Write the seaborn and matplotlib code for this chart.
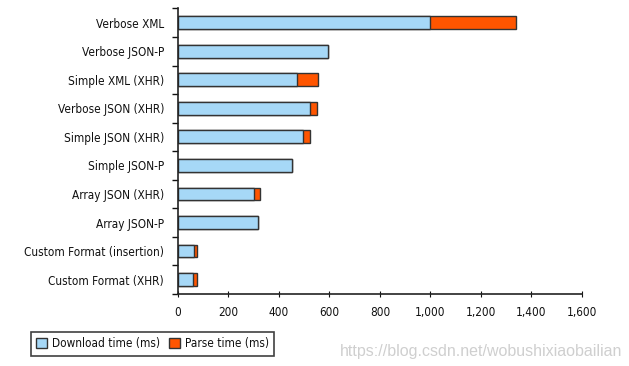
import matplotlib
matplotlib.use("Agg")
import matplotlib.pyplot as plt
from matplotlib.patches import Patch
from matplotlib.ticker import FuncFormatter, FixedLocator
import seaborn as sns
import pandas as pd

# Formats and timings (ms)
formats = ['Verbose XML', 'Verbose JSON-P', 'Simple XML (XHR)', 'Verbose JSON (XHR)',
           'Simple JSON (XHR)', 'Simple JSON-P', 'Array JSON (XHR)', 'Array JSON-P',
           'Custom Format (insertion)', 'Custom Format (XHR)']
download = [1000, 595, 472, 524, 496, 452, 302, 317, 63, 60]
parse = [340, 0, 84, 28, 28, 0, 23, 0, 12, 15]

df = pd.DataFrame({'format': formats, 'download': download, 'parse': parse})
df['total'] = df['download'] + df['parse']

blue = '#a6d8f7'
orange = '#ff5500'
edge = '#333333'

sns.set_style('ticks')
plt.rcParams['font.family'] = ['DejaVu Sans']
plt.rcParams['font.stretch'] = 'condensed'
plt.rcParams['text.color'] = '#111111'
plt.rcParams['xtick.color'] = '#111111'
plt.rcParams['ytick.color'] = '#111111'

fig = plt.figure(figsize=(6.29, 3.66), dpi=100)
ax = fig.add_axes([0.283, 0.197, 0.642, 0.78])

sns.barplot(data=df, x='total', y='format', color=orange, edgecolor=edge,
            linewidth=1.0, width=0.45, ax=ax, saturation=1)
sns.barplot(data=df, x='download', y='format', color=blue, edgecolor=edge,
            linewidth=1.0, width=0.45, ax=ax, saturation=1)

ax.set_xlim(0, 1600)
ax.set_ylim(9.5, -0.5)
ax.set_xticks(range(0, 1601, 200))
ax.xaxis.set_major_formatter(FuncFormatter(lambda v, p: f'{int(v):,}'))
ax.set_xlabel('')
ax.set_ylabel('')
ax.tick_params(axis='y', which='major', length=0, labelsize=8.5, pad=10)
ax.tick_params(axis='x', which='major', length=4, labelsize=8.5, direction='inout', pad=7)
ax.yaxis.set_minor_locator(FixedLocator([i - 0.5 for i in range(11)]))
ax.tick_params(axis='y', which='minor', length=4, width=1)
for s in ['top', 'right']:
    ax.spines[s].set_visible(False)
for s in ['left', 'bottom']:
    ax.spines[s].set_linewidth(1.2)
    ax.spines[s].set_color('#222222')

handles = [Patch(facecolor=blue, edgecolor=edge, label='Download time (ms)'),
           Patch(facecolor=orange, edgecolor=edge, label='Parse time (ms)')]
leg = fig.legend(handles=handles, loc='lower left', bbox_to_anchor=(0.04, 0.012),
                 ncol=2, frameon=True, fontsize=8.5, handlelength=0.9, handleheight=0.9,
                 handletextpad=0.4, columnspacing=0.8, fancybox=False, borderpad=0.45)
leg.get_frame().set_edgecolor('#111111')
leg.get_frame().set_linewidth(1.2)

fig.text(0.99, 0.02, 'https://blog.csdn.net/wobushixiaobailian', ha='right', va='bottom',
         fontsize=11.5, color='#cfcfcf', family=['Liberation Sans'], stretch='normal')

fig.savefig('out.png', dpi=100)
